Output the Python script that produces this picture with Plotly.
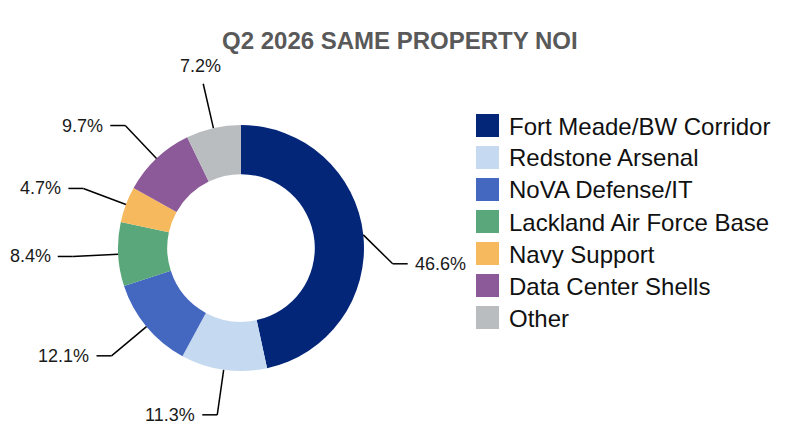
import numpy as np
import plotly.graph_objects as go

# data
regions = ["Fort Meade/BW Corridor", "Redstone Arsenal", "NoVA Defense/IT",
           "Lackland Air Force Base", "Navy Support", "Data Center Shells", "Other"]
noi_share = [46.6, 11.3, 12.1, 8.4, 4.7, 9.7, 7.2]
colors = ["#042679", "#c5d9f0", "#4467c0", "#5aa77c", "#f6b95e", "#8c5a99", "#babdbf"]

W, H = 800, 440
OFF = 8                      # page body margin of the html
cx, cy, R = 241, 248, 123    # pie centre / radius in screen px
LEG_X = 476                  # left edge of legend swatches
FONT = "Arial, Liberation Sans, sans-serif"


def to_paper(px, py):
    return (px - OFF) / W, 1 - (py - OFF) / H


fig = go.Figure()
dx0, dy0 = to_paper(cx - R, cy + R)
dx1, dy1 = to_paper(cx + R, cy - R)
fig.add_trace(go.Pie(
    labels=regions, values=noi_share, hole=0.6,
    sort=False, direction="clockwise", rotation=0,
    marker=dict(colors=colors, line=dict(width=0)),
    textinfo="none", hoverinfo="label+percent", showlegend=False,
    domain=dict(x=[dx0, dx1], y=[dy0, dy1]),
))

# leader lines + outside labels, from slice mid angles
vals = np.array(noi_share)
mids = (np.cumsum(vals) - vals / 2) / vals.sum() * 2 * np.pi
shapes = []
annotations = []
line_style = dict(color="#000000", width=1.5)
label_font = dict(family=FONT, size=18, color="#1a1a1a")
STUB, PAD = 15, 5
for v, th in zip(noi_share, mids):
    x0, y0 = cx + R * np.sin(th), cy - R * np.cos(th)
    near_top = np.cos(th) > 0.9
    r_el = R * 1.37
    x1, y1 = cx + r_el * np.sin(th), cy - r_el * np.cos(th)
    side = 1 if np.sin(th) > 0 else -1
    if side > 0 and not near_top:
        # keep the label clear of the legend: slide the elbow below it
        text_w = len(f"{v}%") * 0.57 * label_font["size"]
        x_max = LEG_X - 12 - text_w - PAD - STUB
        if x1 > x_max:
            r2 = R * 1.24
            x1 = x_max
            y1 = cy + np.sqrt(max(r2 ** 2 - (x1 - cx) ** 2, 0))
    a, b = to_paper(x0, y0)
    c, d = to_paper(x1, y1)
    shapes.append(dict(type="line", xref="paper", yref="paper",
                       x0=a, y0=b, x1=c, y1=d, line=line_style))
    if near_top:
        tx, ty = to_paper(x1 - 3, y1 - 6)
        annotations.append(dict(x=tx, y=ty, xref="paper", yref="paper",
                                text=f"{v}%", showarrow=False,
                                xanchor="center", yanchor="bottom", font=label_font))
        continue
    x2 = x1 + side * STUB
    e, _ = to_paper(x2, y1)
    shapes.append(dict(type="line", xref="paper", yref="paper",
                       x0=c, y0=d, x1=e, y1=d, line=line_style))
    tx, ty = to_paper(x2 + side * PAD, y1)
    annotations.append(dict(x=tx, y=ty, xref="paper", yref="paper",
                            text=f"{v}%", showarrow=False,
                            xanchor="left" if side > 0 else "right", yanchor="middle",
                            font=label_font))

# legend with large square swatches
for i, (name, col) in enumerate(zip(regions, colors)):
    top = 114 + 32 * i
    a, b = to_paper(LEG_X, top)
    c, d = to_paper(LEG_X + 23, top + 23)
    shapes.append(dict(type="rect", xref="paper", yref="paper",
                       x0=a, y0=b, x1=c, y1=d, fillcolor=col, line=dict(width=0)))
    tx, ty = to_paper(507, top + 12)
    annotations.append(dict(x=tx, y=ty, xref="paper", yref="paper", text=name,
                            showarrow=False, xanchor="left", yanchor="middle",
                            font=dict(family=FONT, size=24, color="#111111")))

tx, ty = to_paper(400, 41)
annotations.append(dict(x=tx, y=ty, xref="paper", yref="paper",
                        text="<b>Q2 2026 SAME PROPERTY NOI</b>", showarrow=False,
                        xanchor="center", yanchor="middle",
                        font=dict(family=FONT, size=24, color="#595959")))

fig.update_layout(
    width=W, height=H,
    margin=dict(l=0, r=0, t=0, b=0),
    paper_bgcolor="white", plot_bgcolor="white",
    shapes=shapes, annotations=annotations,
)

fig.write_html("out.html")
